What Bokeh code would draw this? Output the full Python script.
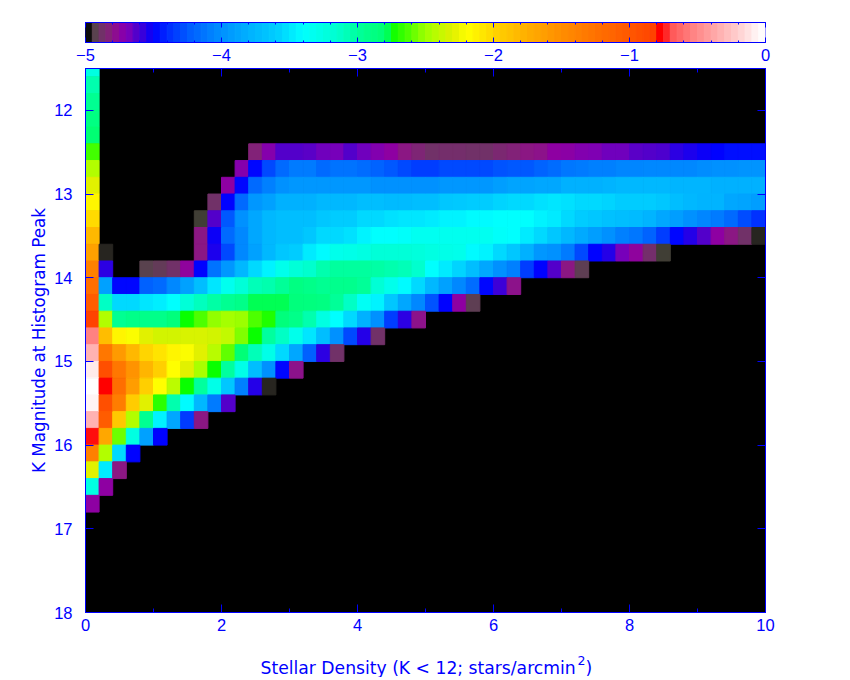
from bokeh.plotting import figure
from bokeh.layouts import column
from bokeh.models import (ColumnDataSource, LinearColorMapper, Range1d, FixedTicker, LinearAxis)
from bokeh.core.properties import value
from bokeh.transform import transform
from bokeh.embed import file_html
from bokeh.resources import INLINE
import numpy as np

N = None
# log10 density per histogram cell; each row is one 0.2 mag K bin, each entry one 0.2 density bin
k_top = [11.4 + 0.2 * i for i in range(27)]
row_00 = [-3.25]
row_01 = [-3.05]
row_02 = [-2.95]
row_03 = [-2.88]
row_04 = [-2.8]
row_05 = [-2.65] + [N]*11 + [-4.82,-4.72,-4.63,-4.62,-4.64,-4.67,-4.68,-4.63,-4.67,-4.7,-4.75,-4.8,-4.84,-4.88,-4.86,-4.86,-4.88,-4.88,-4.85,-4.82,-4.8,-4.78,-4.75,-4.73,-4.71,-4.69,-4.67,-4.66,-4.64,-4.63,-4.61,-4.56,-4.53,-4.52,-4.5,-4.47,-4.47,-4.47]
row_06 = [-2.45] + [N]*10 + [-4.72,-4.48,-4.3,-4.18,-4.1,-4.1,-4.18,-4.14,-4.14,-4.17,-4.2,-4.25,-4.3,-4.33,-4.33,-4.3,-4.3,-4.3,-4.3,-4.27,-4.25,-4.25,-4.2,-4.17,-4.12,-4.1,-4.08,-4.07,-4.05,-4.05,-4.03,-4.03,-4.03,-4.03,-4.02,-4.0,-4.0,-3.98,-3.97]
row_07 = [-2.3] + [N]*9 + [-4.75,-4.48,-4.18,-4.07,-4.0,-3.95,-3.95,-3.95,-3.95,-3.95,-3.95,-4.0,-4.0,-4.0,-4.0,-4.0,-3.95,-3.95,-3.95,-3.95,-3.92,-3.88,-3.88,-3.85,-3.85,-3.8,-3.8,-3.8,-3.78,-3.75,-3.75,-3.75,-3.75,-3.77,-3.77,-3.77,-3.8,-3.8,-3.8,-3.8]
row_08 = [-2.15] + [N]*8 + [-4.87,-4.5,-4.18,-3.95,-3.9,-3.8,-3.8,-3.8,-3.75,-3.75,-3.75,-3.7,-3.7,-3.72,-3.72,-3.7,-3.7,-3.65,-3.63,-3.6,-3.6,-3.57,-3.55,-3.55,-3.52,-3.5,-3.52,-3.55,-3.55,-3.57,-3.6,-3.6,-3.6,-3.65,-3.7,-3.75,-3.78,-3.78,-3.85,-3.88,-3.92]
row_09 = [-2.02] + [N]*7 + [-4.95,-4.62,-4.25,-4.0,-3.85,-3.75,-3.7,-3.7,-3.7,-3.65,-3.6,-3.6,-3.55,-3.55,-3.52,-3.5,-3.5,-3.48,-3.45,-3.45,-3.42,-3.42,-3.4,-3.4,-3.4,-3.45,-3.48,-3.55,-3.6,-3.65,-3.68,-3.7,-3.72,-3.78,-3.85,-3.92,-4.0,-4.05,-4.1,-4.18,-4.28,-4.38]
row_10 = [-1.82] + [N]*7 + [-4.8,-4.52,-4.18,-4.03,-3.85,-3.75,-3.7,-3.7,-3.65,-3.55,-3.55,-3.52,-3.45,-3.4,-3.4,-3.38,-3.33,-3.33,-3.32,-3.32,-3.32,-3.33,-3.38,-3.4,-3.48,-3.55,-3.65,-3.75,-3.83,-3.92,-4.0,-4.07,-4.12,-4.2,-4.33,-4.48,-4.55,-4.62,-4.75,-4.8,-4.87,-4.97]
row_11 = [-1.65,-4.97] + [N]*6 + [-4.8,-4.54,-4.3,-4.03,-3.9,-3.75,-3.65,-3.6,-3.48,-3.42,-3.3,-3.28,-3.25,-3.2,-3.2,-3.2,-3.22,-3.25,-3.28,-3.3,-3.42,-3.45,-3.55,-3.65,-3.8,-3.95,-4.0,-4.1,-4.3,-4.5,-4.55,-4.68,-4.76,-4.86,-4.95]
row_12 = [-1.38,-4.56,N,N,-4.93,-4.9,-4.87,-4.76,-4.5,-4.14,-3.95,-3.75,-3.55,-3.45,-3.3,-3.2,-3.15,-3.05,-3.0,-3.0,-3.0,-3.02,-3.05,-3.08,-3.15,-3.4,-3.48,-3.57,-3.7,-3.85,-4.0,-4.07,-4.33,-4.5,-4.63,-4.8,-4.92]
row_13 = [-1.22,-3.9,-4.48,-4.48,-4.22,-4.18,-4.03,-3.9,-3.7,-3.5,-3.32,-3.2,-3.08,-3.05,-2.97,-2.88,-2.92,-2.95,-2.93,-2.93,-2.98,-3.18,-3.3,-3.42,-3.55,-3.75,-3.9,-4.03,-4.17,-4.48,-4.58,-4.78]
row_14 = [-1.05,-3.12,-3.55,-3.55,-3.5,-3.47,-3.4,-3.2,-3.1,-3.02,-2.95,-2.92,-2.78,-2.78,-2.78,-2.85,-2.86,-2.88,-2.97,-3.12,-3.35,-3.45,-3.65,-3.85,-4.03,-4.27,-4.5,-4.75,-4.92]
row_15 = [-0.82,-2.45,-2.95,-2.92,-2.92,-2.92,-2.85,-2.75,-2.62,-2.52,-2.48,-2.5,-2.62,-2.7,-2.85,-2.92,-3.05,-3.25,-3.4,-3.55,-3.8,-4.0,-4.33,-4.56,-4.78]
row_16 = [-0.54,-1.85,-2.15,-2.2,-2.3,-2.35,-2.35,-2.33,-2.33,-2.35,-2.4,-2.55,-2.75,-3.0,-3.12,-3.3,-3.5,-3.7,-4.0,-4.3,-4.55,-4.88]
row_17 = [-0.32,-1.3,-1.6,-1.82,-2.0,-2.07,-2.15,-2.2,-2.3,-2.43,-2.6,-2.82,-3.08,-3.28,-3.55,-3.85,-4.22,-4.56,-4.88]
row_18 = [-0.1,-0.93,-1.3,-1.55,-1.8,-1.97,-2.18,-2.3,-2.47,-2.75,-3.0,-3.28,-3.7,-4.0,-4.48,-4.78]
row_19 = [-0.01,-0.76,-1.22,-1.62,-1.97,-2.18,-2.42,-2.75,-3.0,-3.28,-3.65,-4.07,-4.55,-4.97]
row_20 = [-0.07,-0.93,-1.35,-1.95,-2.3,-2.68,-3.05,-3.42,-3.75,-4.1,-4.63]
row_21 = [-0.32,-1.05,-1.92,-2.45,-2.95,-3.45,-3.85,-4.35,-4.8]
row_22 = [-0.74,-1.7,-2.58,-3.25,-3.9,-4.5]
row_23 = [-1.38,-2.45,-3.55,-4.5]
row_24 = [-2.3,-3.48,-4.8]
row_25 = [-3.25,-4.75]
row_26 = [-4.75]
rows = [row_00,row_01,row_02,row_03,row_04,row_05,row_06,row_07,row_08,row_09,row_10,row_11,row_12,
        row_13,row_14,row_15,row_16,row_17,row_18,row_19,row_20,row_21,row_22,row_23,row_24,row_25,row_26]

x_ticks = [0, 2, 4, 6, 8, 10]
x_minor = [1, 3, 5, 7, 9]
y_ticks = [12, 13, 14, 15, 16, 17, 18]
cb_ticks = [-5, -4, -3, -2, -1, 0]

# colour ramp anchors (value, r, g, b)
ramp = [(-5.0,0,0,0),(-4.98,0,0,0),(-4.95,0x4d,0x4a,0x40),(-4.88,0x6f,0x33,0x66),(-4.8,0x8a,0x1a,0x80),
        (-4.75,0x90,0,0xa0),(-4.68,0x7a,0,0xb8),(-4.62,0x50,0,0xcc),(-4.56,0x30,0,0xe0),(-4.5,0,0,0xff),
        (-4.38,0,0x30,0xff),(-4.22,0,0x60,0xff),(-4.0,0,0x90,0xff),(-3.8,0,0xb0,0xff),(-3.58,0,0xd0,0xff),
        (-3.4,0,0xff,0xff),(-3.15,0,0xff,0xd0),(-2.95,0,0xff,0x90),(-2.78,0,0xff,0x70),(-2.76,0,0xff,0),
        (-2.62,0x50,0xff,0),(-2.52,0x90,0xff,0),(-2.45,0xb0,0xff,0),(-2.3,0xe0,0xf0,0),(-2.19,0xff,0xff,0),
        (-1.97,0xff,0xd0,0),(-1.76,0xff,0xb0,0),(-1.52,0xff,0x90,0),(-1.23,0xff,0x70,0),(-0.93,0xff,0x50,0),
        (-0.8,0xff,0x40,0),(-0.78,0xff,0,0),(-0.74,0xff,0,0),(-0.71,0xff,0x50,0x50),(-0.54,0xff,0x80,0x80),
        (-0.37,0xff,0xa8,0xa8),(-0.23,0xff,0xc8,0xc8),(-0.13,0xff,0xe0,0xe0),(-0.05,0xff,0xf8,0xf8),(0.0,0xff,0xff,0xff)]
ramp_v = [a[0] for a in ramp]


def make_palette(n):
    edges = np.linspace(-5, 0, n + 1)
    mids = (edges[:-1] + edges[1:]) / 2
    return edges, ["#%02x%02x%02x" % tuple(int(round(np.interp(m, ramp_v, [a[i] for a in ramp]))) for i in (1, 2, 3))
                   for m in mids]


levels, bar_palette = make_palette(100)
_, cell_palette = make_palette(500)

BLUE = "#0000ff"
FONT = "Liberation Sans"
LABEL_FONT = "DejaVu Sans"
FS = "16.5px"

xs, ys, vs = [], [], []
for top, row in zip(k_top, rows):
    for c, v in enumerate(row):
        if v is not None:
            xs.append(0.1 + 0.2 * c)
            ys.append(top + 0.1)
            vs.append(v)
src = ColumnDataSource(dict(x=xs, y=ys, v=vs))
mapper = LinearColorMapper(palette=cell_palette, low=-5, high=0)


def style(ax, major, minor=None, label=True, tick=8, mtick=4, standoff=6):
    ax.ticker = FixedTicker(ticks=major, minor_ticks=minor or [])
    ax.axis_line_color = BLUE
    ax.major_tick_line_color = BLUE
    ax.minor_tick_line_color = BLUE
    ax.major_tick_in = tick
    ax.major_tick_out = 0
    ax.minor_tick_in = mtick
    ax.minor_tick_out = 0
    ax.major_label_text_color = BLUE
    ax.major_label_text_font = FONT
    ax.major_label_text_font_size = FS if label else "1px"
    ax.major_label_standoff = standoff if label else 0
    if not label:
        ax.major_label_overrides = {t: "" for t in major}


# colour bar
cb = figure(width=800, height=68, x_range=Range1d(-5, 0), y_range=Range1d(0, 1),
            output_backend="svg", toolbar_location=None, tools="",
            x_axis_location=None, y_axis_location=None,
            min_border_left=85, min_border_right=35, min_border_top=22, min_border_bottom=26,
            background_fill_color="white", outline_line_color=BLUE)
cb.grid.visible = False
cb.quad(left=levels[:-1], right=levels[1:], bottom=0, top=1, fill_color=bar_palette, line_color=bar_palette, line_width=1)
cb_minor = [round(-5 + 0.2 * i, 1) for i in range(26)]
ax = LinearAxis(); style(ax, cb_ticks, cb_minor, True, 5, 2); cb.add_layout(ax, "below")
ax = LinearAxis(); style(ax, cb_ticks, cb_minor, False, 5, 2); cb.add_layout(ax, "above")

# main panel
p = figure(width=800, height=577, x_range=Range1d(0, 10), y_range=Range1d(18, 11.5),
           output_backend="svg", toolbar_location=None, tools="",
           x_axis_location=None, y_axis_location=None,
           min_border_left=85, min_border_right=35, min_border_top=0, min_border_bottom=33,
           background_fill_color="black", outline_line_color=BLUE)
p.grid.visible = False
p.rect(x="x", y="y", width=0.2, height=0.2, source=src,
       fill_color=transform("v", mapper), line_color=transform("v", mapper), line_width=1)

ax = LinearAxis(); style(ax, x_ticks, x_minor); p.add_layout(ax, "below")
ax = LinearAxis(); style(ax, x_ticks, x_minor, False); p.add_layout(ax, "above")
ax = LinearAxis(); style(ax, y_ticks, standoff=13)
ax.axis_label = "K Magnitude at Histogram Peak"
ax.axis_label_text_color = BLUE
ax.axis_label_text_font = LABEL_FONT
ax.axis_label_text_font_size = "16.8px"
ax.axis_label_text_font_style = "normal"
ax.axis_label_standoff = 2
p.add_layout(ax, "left")
ax = LinearAxis(); style(ax, y_ticks, None, False); p.add_layout(ax, "right")

# x-axis caption strip (its frame is aligned with the panels above, so x runs 85..765 in page pixels)
cap = figure(width=800, height=32, x_range=Range1d(85, 765), y_range=Range1d(0, 32),
             output_backend="svg", toolbar_location=None, tools="",
             x_axis_location=None, y_axis_location=None,
             min_border_left=85, min_border_right=35, min_border_top=0, min_border_bottom=0,
             background_fill_color="white", outline_line_color=None)
cap.grid.visible = False
cap.text(x=[260], y=[10], text=["Stellar Density (K < 12; stars/arcmin"], text_color=BLUE,
         text_font=value(LABEL_FONT), text_font_size=value("17.2px"), text_baseline="alphabetic", text_align="left")
cap.text(x=[577], y=[17], text=["2"], text_color=BLUE,
         text_font=value(LABEL_FONT), text_font_size=value("12.5px"), text_baseline="alphabetic", text_align="left")
cap.text(x=[585], y=[10], text=[")"], text_color=BLUE,
         text_font=value(LABEL_FONT), text_font_size=value("17.2px"), text_baseline="alphabetic", text_align="left")

page = column(cb, p, cap, spacing=0)
open("out.html", "w").write(file_html(page, INLINE))
